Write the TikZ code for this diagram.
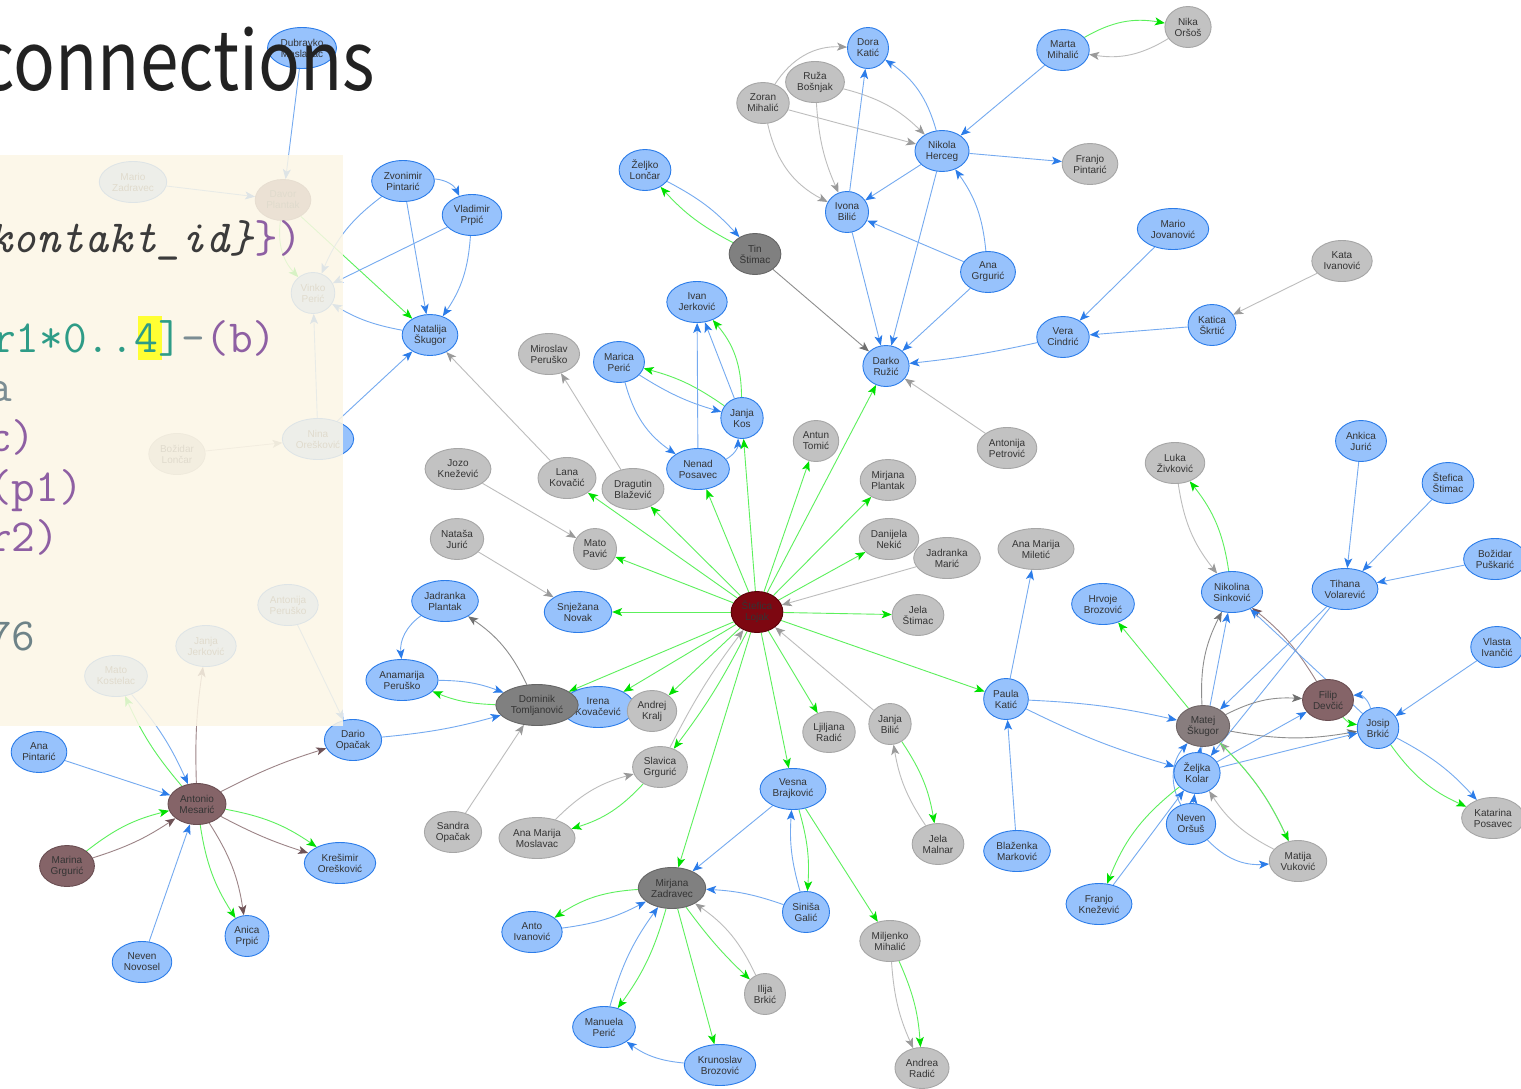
\documentclass[tikz,border=0pt]{standalone}
\usepackage{fontspec}
\setmainfont{Liberation Sans}
\setmonofont{Latin Modern Mono}
\newfontfamily\titlefont{Noto Sans CJK SC}
\usetikzlibrary{shapes.geometric,arrows.meta,backgrounds}

% node colours
\definecolor{nbfill}{HTML}{97C2FC}\definecolor{nbline}{HTML}{2B7CE9}
\definecolor{ngfill}{HTML}{C2C2C2}\definecolor{ngline}{HTML}{A6A6A6}
\definecolor{ndfill}{HTML}{808080}\definecolor{ndline}{HTML}{666666}
\definecolor{nmfill}{HTML}{887D7E}\definecolor{nmline}{HTML}{6E6465}
\definecolor{nrfill}{HTML}{856468}\definecolor{nrline}{HTML}{6A4E52}
\definecolor{ncfill}{HTML}{7D0711}\definecolor{ncline}{HTML}{5A0008}
\definecolor{txt}{HTML}{343434}
% edge colours (line / tip)
\definecolor{lnB}{HTML}{75AAF0}\definecolor{tpB}{HTML}{2B7CE9}
\definecolor{lnG}{HTML}{BDBDBD}\definecolor{tpG}{HTML}{9A9A9A}
\definecolor{lnD}{HTML}{8E8E8E}\definecolor{tpD}{HTML}{6F6F6F}
\definecolor{lnN}{HTML}{5CF05C}\definecolor{tpN}{HTML}{00E000}
\definecolor{lnR}{HTML}{9C8487}\definecolor{tpR}{HTML}{6E5256}
% slide colours
\definecolor{paper}{HTML}{FCF6E6}
\definecolor{titleink}{HTML}{222222}
\definecolor{codeink}{HTML}{3B3B3B}
\definecolor{codeviolet}{HTML}{8E5FA3}
\definecolor{codeteal}{HTML}{2E9C87}
\definecolor{codegray}{HTML}{7B8D93}
\definecolor{codenum}{HTML}{6E8388}
\definecolor{hiyellow}{HTML}{FFFF33}

\tikzset{
  person/.style={ellipse, draw, line width=0.9pt, inner sep=3pt,
    minimum width=41pt, minimum height=41pt, align=center, text=txt,
    font=\fontsize{10}{11}\selectfont},
  pblue/.style={person, fill=nbfill, draw=nbline},
  pgray/.style={person, fill=ngfill, draw=ngline},
  pdark/.style={person, fill=ndfill, draw=ndline},
  pmatej/.style={person, fill=nmfill, draw=nmline},
  pbrown/.style={person, fill=nrfill, draw=nrline},
  pcentre/.style={person, fill=ncfill, draw=ncline},
  link/.style={line width=0.9pt},
  eb/.style={link, draw=lnB, -{Stealth[length=10pt,width=8pt,inset=2.5pt,color=tpB]}},
  eg/.style={link, draw=lnG, -{Stealth[length=10pt,width=8pt,inset=2.5pt,color=tpG]}},
  ed/.style={link, draw=lnD, -{Stealth[length=10pt,width=8pt,inset=2.5pt,color=tpD]}},
  en/.style={link, draw=lnN, -{Stealth[length=10pt,width=8pt,inset=2.5pt,color=tpN]}},
  er/.style={link, draw=lnR, -{Stealth[length=10pt,width=8pt,inset=2.5pt,color=tpR]}},
  code/.style={anchor=base west, inner sep=0pt, font=\ttfamily\fontsize{46}{50}\selectfont}
}

\begin{document}
\begin{tikzpicture}[x=1pt,y=-1pt]
\useasboundingbox (0,0) rectangle (1521,1088);

% ---------- people ----------
\node[pblue] (dubravko) at (302,48) {Dubravko\\Moslavac};
\node[pblue] (mariozad) at (133,182) {Mario\\Zadravec};
\node[pbrown] (davor) at (283,200) {Davor\\Plantak};
\node[pblue] (vinko) at (313,293) {Vinko\\Perić};
\node[pgray] (bozidarl) at (177,454) {Božidar\\Lončar};
\node[pblue] (nina) at (318,439) {Nina\\Orešković};
\node[pblue] (antonijap) at (288,605) {Antonija\\Peruško};
\node[pblue] (janjaj) at (206,646) {Janja\\Jerković};
\node[pblue] (matok) at (116,676) {Mato\\Kostelac};

\node[pblue] (zvonimir) at (403,181) {Zvonimir\\Pintarić};
\node[pblue] (vladimir) at (472,215) {Vladimir\\Prpić};
\node[pblue] (natalija) at (430,335) {Natalija\\Škugor};
\node[pblue] (zeljkol) at (645,170) {Željko\\Lončar};
\node[pdark] (tin) at (755,254) {Tin\\Štimac};
\node[pblue] (ivanj) at (697,302) {Ivan\\Jerković};
\node[pgray] (miroslav) at (549,354) {Miroslav\\Peruško};
\node[pblue] (marica) at (619,362) {Marica\\Perić};
\node[pblue] (janjakos) at (742,418) {Janja\\Kos};
\node[pblue] (nenad) at (698,469) {Nenad\\Posavec};
\node[pgray] (jozo) at (458,469) {Jozo\\Knežević};
\node[pgray] (lana) at (567,478) {Lana\\Kovačić};
\node[pgray] (dragutin) at (633,489) {Dragutin\\Blažević};
\node[pgray] (natasa) at (457,539) {Nataša\\Jurić};
\node[pgray] (matop) at (595,549) {Mato\\Pavić};
\node[pblue] (jadrankap) at (445,601) {Jadranka\\Plantak};
\node[pblue] (snjezana) at (578,612) {Snježana\\Novak};
\node[pblue] (anamarija) at (402,680) {Anamarija\\Peruško};
\node[pblue] (irena) at (598,707) {Irena\\Kovačević};
\node[pdark] (dominik) at (537,705) {Dominik\\Tomljanović};
\node[pgray] (andrej) at (652,711) {Andrej\\Kralj};
\node[pcentre] (centre) at (757,612) {Štefica\\Lojak};

\node[pgray] (zoran) at (763,103) {Zoran\\Mihalić};
\node[pgray] (ruza) at (815,82) {Ruža\\Bošnjak};
\node[pblue] (dora) at (868,48) {Dora\\Katić};
\node[pblue] (nikola) at (942,151) {Nikola\\Herceg};
\node[pgray] (franjop) at (1090,164) {Franjo\\Pintarić};
\node[pblue] (marta) at (1063,50) {Marta\\Mihalić};
\node[pgray] (nika) at (1188,27) {Nika\\Oršoš};
\node[pblue] (ivona) at (847,212) {Ivona\\Bilić};
\node[pblue] (anagrg) at (988,272) {Ana\\Grgurić};
\node[pblue] (vera) at (1063,337) {Vera\\Cindrić};
\node[pblue] (darko) at (886,366) {Darko\\Ružić};
\node[pblue] (mariojov) at (1173,229) {Mario\\Jovanović};
\node[pgray] (kata) at (1342,261) {Kata\\Ivanović};
\node[pblue] (katica) at (1212,325) {Katica\\Škrtić};

\node[pgray] (antun) at (816,441) {Antun\\Tomić};
\node[pgray] (antonijapet) at (1007,448) {Antonija\\Petrović};
\node[pgray] (mirjanap) at (888,480) {Mirjana\\Plantak};
\node[pgray] (danijela) at (889,539) {Danijela\\Nekić};
\node[pgray] (jadrankam) at (947,558) {Jadranka\\Marić};
\node[pgray] (anamiletic) at (1036,549) {Ana Marija\\Miletić};
\node[pgray] (jelas) at (918,615) {Jela\\Štimac};
\node[pblue] (hrvoje) at (1103,604) {Hrvoje\\Brozović};
\node[pblue] (paula) at (1006,699) {Paula\\Katić};
\node[pgray] (janjab) at (890,724) {Janja\\Bilić};
\node[pgray] (ljiljana) at (829,732) {Ljiljana\\Radić};

\node[pgray] (luka) at (1175,463) {Luka\\Živković};
\node[pblue] (ankica) at (1361,441) {Ankica\\Jurić};
\node[pblue] (stefica) at (1448,483) {Štefica\\Štimac};
\node[pblue] (bozidarp) at (1495,559) {Božidar\\Puškarić};
\node[pblue] (nikolina) at (1232,592) {Nikolina\\Sinković};
\node[pblue] (tihana) at (1345,589) {Tihana\\Volarević};
\node[pblue] (vlasta) at (1497,647) {Vlasta\\Ivančić};
\node[pbrown] (filip) at (1328,700) {Filip\\Devčić};
\node[pblue] (zeljka) at (1197,773) {Željka\\Kolar};
\node[pmatej] (matej) at (1203,726) {Matej\\Škugor};
\node[pblue] (josip) at (1378,728) {Josip\\Brkić};
\node[pblue] (nevenor) at (1191,824) {Neven\\Oršuš};
\node[pgray] (matija) at (1298,861) {Matija\\Vuković};
\node[pgray] (katarina) at (1493,818) {Katarina\\Posavec};

\node[pblue] (anapin) at (39,752) {Ana\\Pintarić};
\node[pbrown] (antonio) at (197,804) {Antonio\\Mesarić};
\node[pbrown] (marina) at (67,866) {Marina\\Grgurić};
\node[pblue] (nevennov) at (142,962) {Neven\\Novosel};
\node[pblue] (anica) at (247,936) {Anica\\Prpić};
\node[pblue] (kresimir) at (340,863) {Krešimir\\Orešković};
\node[pblue] (dario) at (353,740) {Dario\\Opačak};

\node[pgray] (sandra) at (453,832) {Sandra\\Opačak};
\node[pgray] (anamos) at (537,838) {Ana Marija\\Moslavac};
\node[pgray] (slavica) at (660,767) {Slavica\\Grgurić};
\node[pdark] (mirjanaz) at (672,888) {Mirjana\\Zadravec};
\node[pblue] (anto) at (532,932) {Anto\\Ivanović};
\node[pblue] (manuela) at (604,1027) {Manuela\\Perić};
\node[pblue] (krunoslav) at (720,1065) {Krunoslav\\Brozović};
\node[pgray] (ilija) at (765,994) {Ilija\\Brkić};
\node[pblue] (vesna) at (793,789) {Vesna\\Brajković};
\node[pgray] (jelam) at (938,844) {Jela\\Malnar};
\node[pblue] (blazenka) at (1017,851) {Blaženka\\Marković};
\node[pblue] (franjok) at (1099,904) {Franjo\\Knežević};
\node[pblue] (sinisa) at (806,912) {Siniša\\Galić};
\node[pgray] (miljenko) at (890,941) {Miljenko\\Mihalić};
\node[pgray] (andrea) at (922,1068) {Andrea\\Radić};

% ---------- connections, kept under the people ----------
\begin{pgfonlayer}{background}
\fill[white] (0,0) rectangle (1521,1088);
% upper left corner
\draw[eb] (dubravko) -- (davor);
\draw[eb] (mariozad) -- (davor);
\draw[en] (davor) to[bend right=25] (vinko);
\draw[en] (davor) -- (natalija);
\draw[eb] (zvonimir) to[bend right=15] (vinko);
\draw[eb] (vladimir) -- (vinko);
\draw[eb] (natalija) to[bend left=10] (vinko);
\draw[eb] (nina) -- (vinko);
\draw[eb] (nina) -- (natalija);
\draw[eg] (bozidarl) -- (nina);
\draw[eb] (antonijap) -- (dario);
\draw[er] (antonio) to[bend left=5] (janjaj);
\draw[en] (antonio) to[bend left=8] (matok);
\draw[eb] (matok) to[bend left=8] (antonio);
% left group
\draw[eb] (zvonimir) to[bend left=30] (vladimir);
\draw[eb] (zvonimir) -- (natalija);
\draw[eb] (vladimir) to[bend left=15] (natalija);
\draw[eb] (zeljkol) to[bend left=10] (tin);
\draw[en] (tin) to[bend left=10] (zeljkol);
\draw[ed] (tin) -- (darko);
\draw[eg] (lana) -- (natalija);
\draw[eg] (dragutin) -- (miroslav);
\draw[eg] (jozo) -- (matop);
\draw[eg] (natasa) -- (snjezana);
\draw[eb] (marica) to[bend right=8] (janjakos);
\draw[eb] (marica) to[bend right=20] (nenad);
\draw[en] (janjakos) to[bend right=10] (marica);
\draw[eb] (nenad) -- (ivanj);
\draw[eb] (nenad) to[bend right=30] (janjakos);
\draw[eb] (janjakos) -- (ivanj);
\draw[en] (janjakos) to[bend right=20] (ivanj);
\draw[eb] (jadrankap) to[bend right=30] (anamarija);
\draw[ed] (dominik) to[bend right=15] (jadrankap);
\draw[eb] (anamarija) to[bend left=10] (dominik);
\draw[en] (dominik) to[bend left=10] (anamarija);
\draw[eb] (dario) to[bend right=5] (dominik);
\draw[eg] (sandra) -- (dominik);
% fan around the centre
\foreach \t in {nenad,janjakos,dragutin,lana,matop,snjezana,dominik,irena,andrej,
  antun,darko,mirjanap,danijela,jelas,paula,ljiljana,vesna,mirjanaz}
  \draw[en] (centre) -- (\t);
\draw[en] (centre) to[bend left=5] (slavica);
\draw[eg] (slavica) to[bend left=5] (centre);
\draw[eg] (jadrankam) -- (centre);
\draw[eg] (janjab) -- (centre);
% top group
\draw[eg] (zoran) to[bend left=30] (dora);
\draw[eg] (zoran) -- (nikola);
\draw[eg] (zoran) to[bend right=25] (ivona);
\draw[eg] (ruza) to[bend left=15] (nikola);
\draw[eg] (ruza) to[bend right=10] (ivona);
\draw[eb] (ivona) -- (dora);
\draw[eb] (nikola) to[bend right=20] (dora);
\draw[eb] (marta) -- (nikola);
\draw[eb] (nikola) -- (franjop);
\draw[eb] (nikola) -- (ivona);
\draw[eb] (anagrg) -- (ivona);
\draw[eb] (anagrg) to[bend right=15] (nikola);
\draw[eb] (ivona) -- (darko);
\draw[eb] (nikola) -- (darko);
\draw[eb] (anagrg) -- (darko);
\draw[eb] (vera) to[bend left=3] (darko);
\draw[eb] (mariojov) -- (vera);
\draw[eb] (katica) -- (vera);
\draw[eg] (kata) -- (katica);
\draw[en] (marta) to[bend left=20] (nika);
\draw[eg] (nika) to[bend left=20] (marta);
\draw[eg] (antonijapet) -- (darko);
% middle right
\draw[eb] (paula) -- (anamiletic);
\draw[eb] (paula) to[bend left=5] (matej);
\draw[eb] (paula) to[bend right=5] (zeljka);
\draw[eb] (blazenka) -- (paula);
\draw[en] (matej) -- (hrvoje);
% right group
\draw[eg] (luka) to[bend right=15] (nikolina);
\draw[en] (nikolina) to[bend right=15] (luka);
\draw[eb] (ankica) -- (tihana);
\draw[eb] (stefica) -- (tihana);
\draw[eb] (bozidarp) -- (tihana);
\draw[eb] (tihana) -- (matej);
\draw[eb] (tihana) -- (zeljka);
\draw[ed] (matej) to[bend left=15] (nikolina);
\draw[eb] (zeljka) -- (nikolina);
\draw[er] (filip) to[bend right=10] (nikolina);
\draw[eb] (josip) -- (nikolina);
\draw[ed] (matej) to[bend left=15] (filip);
\draw[eb] (josip) to[bend right=40] (filip);
\draw[eb] (zeljka) -- (filip);
\draw[eb] (vlasta) -- (josip);
\draw[ed] (matej) to[bend right=10] (josip);
\draw[eb] (zeljka) -- (josip);
\draw[en] (filip) to[bend right=20] (josip);
\draw[en] (josip) to[bend right=15] (katarina);
\draw[eb] (josip) to[bend left=10] (katarina);
\draw[eb] (nevenor) to[bend right=25] (matija);
\draw[eb] (nevenor) -- (zeljka);
\draw[eb] (nevenor) to[bend left=35] (matej);
\draw[eb] (zeljka) -- (matej);
\draw[eb] (franjok) -- (zeljka);
\draw[en] (zeljka) to[bend right=15] (franjok);
\draw[eg] (matija) to[bend left=15] (zeljka);
\draw[eg] (matija) to[bend right=10] (matej);
\draw[en] (matej) to[bend left=10] (matija);
% lower left group
\draw[eb] (anapin) -- (antonio);
\draw[en] (marina) to[bend left=12] (antonio);
\draw[er] (marina) to[bend right=8] (antonio);
\draw[eb] (nevennov) -- (antonio);
\draw[en] (antonio) to[bend right=12] (anica);
\draw[er] (antonio) to[bend left=12] (anica);
\draw[en] (antonio) to[bend left=12] (kresimir);
\draw[er] (antonio) to[bend right=5] (kresimir);
\draw[er] (antonio) to[bend left=5] (dario);
% lower group
\draw[eg] (anamos) to[bend left=15] (slavica);
\draw[en] (slavica) to[bend left=15] (anamos);
\draw[eb] (vesna) -- (mirjanaz);
\draw[en] (mirjanaz) to[bend right=15] (anto);
\draw[eb] (anto) to[bend right=10] (mirjanaz);
\draw[eb] (manuela) to[bend left=10] (mirjanaz);
\draw[en] (mirjanaz) to[bend left=10] (manuela);
\draw[en] (mirjanaz) -- (krunoslav);
\draw[eb] (krunoslav) to[bend left=15] (manuela);
\draw[en] (mirjanaz) to[bend right=5] (ilija);
\draw[eg] (ilija) to[bend right=15] (mirjanaz);
\draw[eb] (sinisa) to[bend right=8] (mirjanaz);
\draw[en] (vesna) to[bend left=10] (sinisa);
\draw[eb] (sinisa) to[bend left=10] (vesna);
\draw[en] (vesna) -- (miljenko);
\draw[eg] (miljenko) to[bend right=10] (andrea);
\draw[en] (miljenko) to[bend left=10] (andrea);
\draw[en] (janjab) to[bend left=12] (jelam);
\draw[eg] (jelam) to[bend left=12] (janjab);
\end{pgfonlayer}

% ---------- code panel laid over the graph ----------
\fill[paper, opacity=0.86] (0,155) rectangle (343,726);
\fill[hiyellow] (138,316) rectangle (162,360);
\node[code, text=codeink] (cl1) at (-12,252) {\textit{kontakt\_id\}}\textcolor{codeviolet}{\})}};
\node[code] (cl2) at (-8,352) {\textcolor{codeteal}{r1*0..4]}\textcolor{codegray}{-}\textcolor{codeviolet}{(b)}};
\node[code, text=codegray] (cl3) at (-12,401) {a};
\node[code, text=codeviolet] (cl4) at (-12,451) {c)};
\node[code, text=codeviolet] (cl5) at (-12,501) {(p1)};
\node[code, text=codeviolet] (cl6) at (-12,551) {r2)};
\node[code, text=codenum] (cl7) at (-12,650) {76};

% ---------- slide title ----------
\node[anchor=base east, inner sep=0pt, text=titleink,
      font=\titlefont\fontsize{82}{90}\selectfont] (title) at (375,90)
      {\scalebox{0.845}[1]{connections}};
\end{tikzpicture}
\end{document}
